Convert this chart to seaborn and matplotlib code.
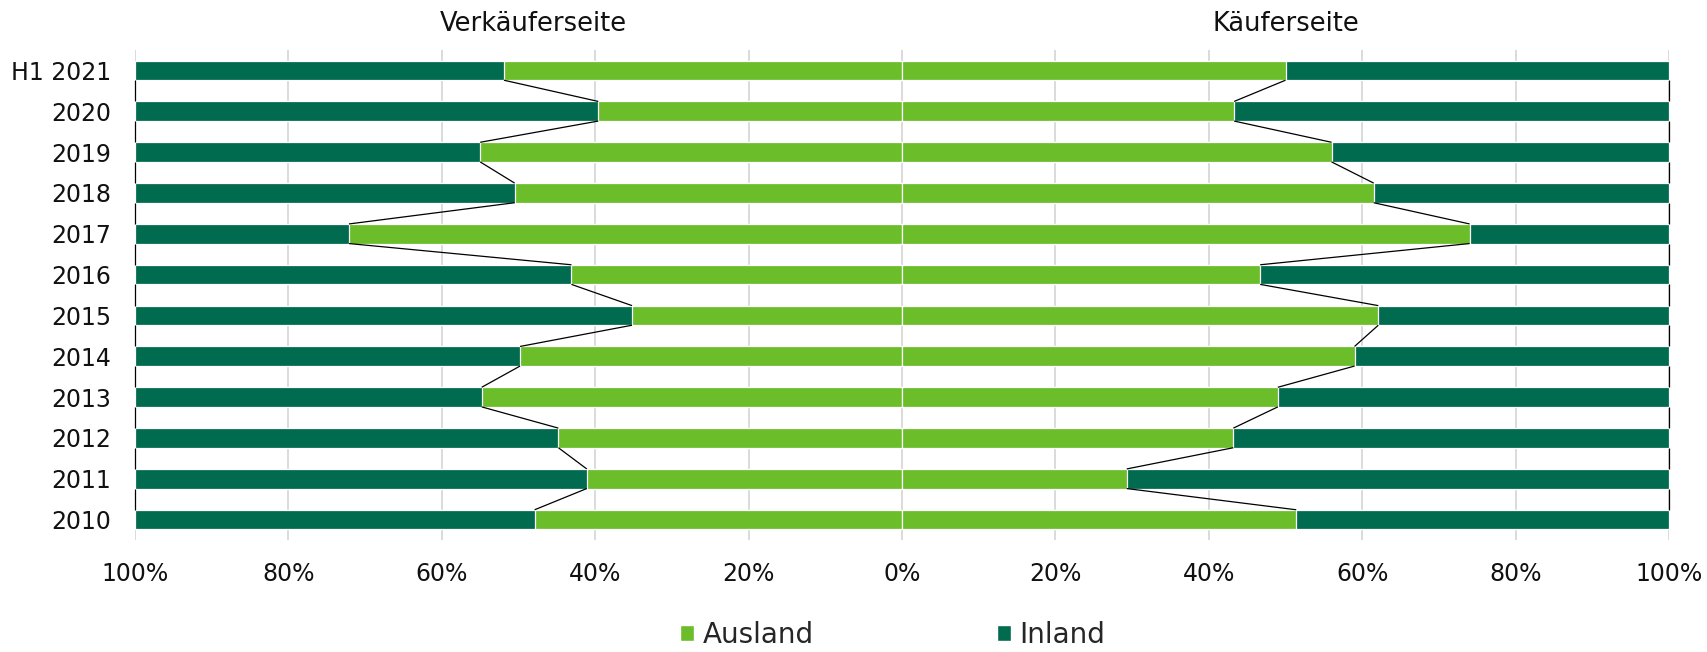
import numpy as np
import pandas as pd
import matplotlib
matplotlib.use("Agg")
import matplotlib.pyplot as plt
from matplotlib.patches import Patch
import seaborn as sns

categories = ["H1 2021", "2020", "2019", "2018", "2017", "2016",
              "2015", "2014", "2013", "2012", "2011", "2010"]
verk_ausland = [51.9, 39.6, 55.0, 50.5, 72.1, 43.1, 35.2, 49.8, 54.8, 44.8, 41.1, 47.9]
kauf_ausland = [50.0, 43.3, 56.0, 61.5, 74.0, 46.7, 62.1, 59.0, 49.0, 43.2, 29.3, 51.4]
total = [100.0] * len(categories)
xticks = [-100, -80, -60, -40, -20, 0, 20, 40, 60, 80, 100]

LIGHT = "#6BBD2A"
DARK = "#006B4E"

sns.set_theme(style="white")
plt.rcParams['font.family'] = ['DejaVu Sans']

df = pd.DataFrame({
    "cat": categories,
    "verk_a": [-v for v in verk_ausland],
    "kauf_a": kauf_ausland,
    "verk_t": [-t for t in total],
    "kauf_t": total,
})

fig = plt.figure(figsize=(17.07, 6.52), dpi=100)
ax = fig.add_axes([135/1707, 1-540/652, (1669-135)/1707, (540-50)/652])

bw = 0.48
kw = dict(orient="h", order=categories, width=bw, edgecolor="white", linewidth=0.9, ax=ax)
sns.barplot(data=df, x="verk_t", y="cat", color=DARK, saturation=1, **kw)
sns.barplot(data=df, x="kauf_t", y="cat", color=DARK, saturation=1, **kw)
sns.barplot(data=df, x="verk_a", y="cat", color=LIGHT, saturation=1, **kw)
sns.barplot(data=df, x="kauf_a", y="cat", color=LIGHT, saturation=1, **kw)

# series lines
n = len(categories)
for col in ["verk_a", "kauf_a", "verk_t", "kauf_t"]:
    vals = df[col].values
    for i in range(n - 1):
        ax.plot([vals[i], vals[i + 1]], [i + bw / 2, i + 1 - bw / 2],
                color="black", lw=0.9, zorder=5, solid_capstyle="butt", clip_on=False)

ax.set_xlim(-100, 100)
ax.set_ylim(n - 0.5, -0.5)
ax.set_xticks(xticks)
ax.set_xticklabels([f"{abs(t)}%" for t in xticks])
ax.xaxis.grid(True, color="#D4D4D4", lw=1.2)
ax.set_axisbelow(True)
for s in ax.spines.values():
    s.set_visible(False)
ax.set_xlabel("")
ax.set_ylabel("")
ax.tick_params(axis="x", length=0, pad=16, labelsize=17, labelcolor="#111111")
ax.tick_params(axis="y", length=0, pad=17, labelsize=17, labelcolor="#111111")

ax.text(-48, -0.5 - 0.63, "Verkäuferseite", ha="center", va="center",
        fontsize=18.5, color="#111111", clip_on=False)
ax.text(50, -0.5 - 0.63, "Käuferseite", ha="center", va="center",
        fontsize=18.5, color="#111111", clip_on=False)

handles = [Patch(facecolor=LIGHT, edgecolor="white", label="Ausland"),
           Patch(facecolor=DARK, edgecolor="white", label="Inland")]
fig.legend(handles=handles, loc="center", bbox_to_anchor=(0.523, 1 - 635/652),
           ncol=2, frameon=False, fontsize=20, handlelength=0.5, handleheight=0.5,
           handletextpad=0.3, columnspacing=6.6)

fig.savefig("out.png", dpi=100)
